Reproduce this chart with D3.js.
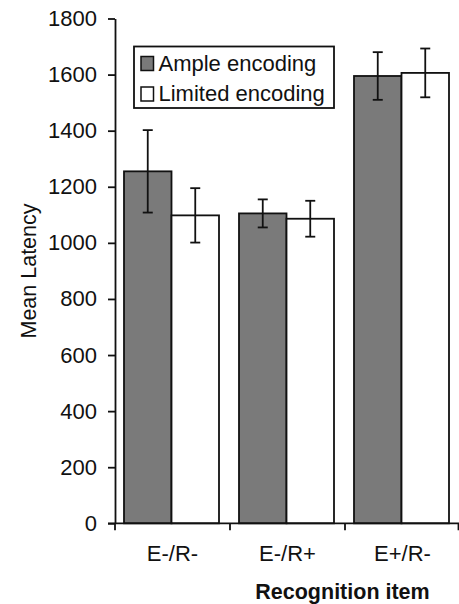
<!DOCTYPE html>
<html>
<head>
<meta charset="utf-8">
<script src="https://cdn.jsdelivr.net/npm/d3@7"></script>
<style>
  body { margin: 0; background: #fff; }
  svg text { font-family: "Liberation Sans", Arial, sans-serif; fill: #111; }
</style>
</head>
<body>
<script>
// data
var categories = ["E-/R-", "E-/R+", "E+/R-"];
var seriesNames = ["Ample encoding", "Limited encoding"];
var ampleMean = [1255, 1105, 1595];
var ampleErr = [147, 50, 85];
var limitedMean = [1098, 1086, 1606];
var limitedErr = [97, 64, 87];
var yTicks = [0, 200, 400, 600, 800, 1000, 1200, 1400, 1600, 1800];

var W = 459, H = 604;
var colors = ["#7a7a7a", "#ffffff"];

var rows = [];
categories.forEach(function (c, i) {
  rows.push({ cat: c, s: 0, v: ampleMean[i], e: ampleErr[i] });
  rows.push({ cat: c, s: 1, v: limitedMean[i], e: limitedErr[i] });
});

var svg = d3.select("body").append("svg")
    .attr("width", W)
    .attr("height", H);

/* scales */
var y = d3.scaleLinear().domain([0, 1800]).range([523.3, 18.5]);
var x0 = d3.scaleBand().domain(categories).range([115, 460]);
var x1 = d3.scaleBand().domain([0, 1]).range([9, x0.bandwidth() - 11]);

/* bars */
svg.append("g").selectAll("rect")
    .data(rows)
  .enter().append("rect")
    .attr("x", function (d) { return x0(d.cat) + x1(d.s); })
    .attr("y", function (d) { return y(d.v); })
    .attr("width", x1.bandwidth())
    .attr("height", function (d) { return y(0) - y(d.v); })
    .style("fill", function (d) { return colors[d.s]; })
    .style("stroke", "#111")
    .style("stroke-width", 1.8);

/* error bars */
var eb = svg.append("g").selectAll("g")
    .data(rows)
  .enter().append("g")
    .attr("transform", function (d) {
      return "translate(" + (x0(d.cat) + x1(d.s) + x1.bandwidth() / 2) + ",0)";
    })
    .style("stroke", "#111")
    .style("stroke-width", 1.8);
eb.append("line")
    .attr("y1", function (d) { return y(d.v + d.e); })
    .attr("y2", function (d) { return y(d.v - d.e); });
eb.append("line")
    .attr("x1", -5).attr("x2", 5)
    .attr("y1", function (d) { return y(d.v + d.e); })
    .attr("y2", function (d) { return y(d.v + d.e); });
eb.append("line")
    .attr("x1", -5).attr("x2", 5)
    .attr("y1", function (d) { return y(d.v - d.e); })
    .attr("y2", function (d) { return y(d.v - d.e); });

/* y axis */
var yAxis = svg.append("g")
    .attr("transform", "translate(115,0)")
    .call(d3.axisLeft(y).tickValues(yTicks).tickFormat(d3.format("d"))
      .tickSize(7).tickSizeOuter(0).tickPadding(11));
yAxis.selectAll("text").style("font-size", "22px");
yAxis.selectAll("path, line").style("stroke", "#111").style("stroke-width", 1.8);

/* x axis: line, ticks at band edges, labels centred */
var xg = svg.append("g").attr("transform", "translate(0," + y(0) + ")");
xg.append("line")
    .attr("x1", 108).attr("x2", W)
    .style("stroke", "#111").style("stroke-width", 1.8);
var edges = categories.map(function (c) { return x0(c); }).concat([x0.range()[1] - 1.5]);
xg.selectAll(".edge")
    .data(edges)
  .enter().append("line")
    .attr("x1", function (d) { return d; })
    .attr("x2", function (d) { return d; })
    .attr("y1", 0).attr("y2", 7)
    .style("stroke", "#111").style("stroke-width", 1.8);
xg.selectAll(".lab")
    .data(categories)
  .enter().append("text")
    .attr("x", function (d) { return x0(d) + x0.bandwidth() / 2; })
    .attr("y", 38)
    .attr("text-anchor", "middle")
    .style("font-size", "22px")
    .text(function (d) { return d; });

/* titles */
svg.append("text")
    .attr("transform", "translate(36,271) rotate(-90)")
    .attr("text-anchor", "middle")
    .style("font-size", "21.5px")
    .text("Mean Latency");
svg.append("text")
    .attr("x", 342.5)
    .attr("y", 599)
    .attr("text-anchor", "middle")
    .style("font-size", "21.5px")
    .style("font-weight", "bold")
    .text("Recognition item");

/* legend */
var lg = svg.append("g").attr("transform", "translate(134,46.5)");
lg.append("rect")
    .attr("width", 200).attr("height", 61.5)
    .style("fill", "#fff").style("stroke", "#111").style("stroke-width", 1.8);
var li = lg.selectAll(".li")
    .data(seriesNames)
  .enter().append("g")
    .attr("transform", function (d, i) { return "translate(7," + (10 + i * 30.5) + ")"; });
li.append("rect")
    .attr("width", 12.5).attr("height", 14)
    .style("fill", function (d, i) { return colors[i]; })
    .style("stroke", "#111").style("stroke-width", 1.5);
li.append("text")
    .attr("x", 17.5).attr("y", 14)
    .style("font-size", "22px")
    .text(function (d) { return d; });
</script>
</body>
</html>
